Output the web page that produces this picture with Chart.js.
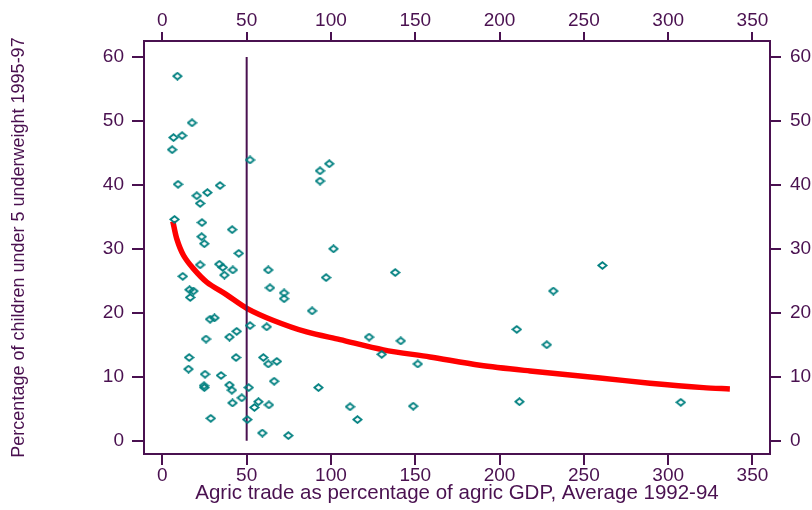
<!DOCTYPE html>
<html>
<head>
<meta charset="utf-8">
<script src="https://cdn.jsdelivr.net/npm/chart.js@4/dist/chart.umd.min.js"></script>
<style>
html,body{margin:0;padding:0;background:#fff;}
#wrap{width:812px;height:510px;}
</style>
</head>
<body>
<div id="wrap"><canvas id="c" width="812" height="510"></canvas></div>
<script>
// ---- data ----
const tradeShare = [8.9,17.6,6.6,11.7,5.8,52.0,99.0,93.5,93.5,9.3,34.2,20.4,26.7,22.4,7.2,23.5,41.4,23.3,24.9,45.3,101.5,
  22.4,33.8,35.8,41.8,36.8,12.1,62.8,97.1,16.1,18.4,16.5,63.8,72.2,72.2,88.8,28.3,30.9,52.0,61.9,44.1,39.8,25.9,
  15.9,43.7,59.9,62.8,67.9,15.5,25.3,34.8,66.3,24.7,24.9,39.8,41.2,51.2,92.6,47.1,41.6,57.0,54.6,63.2,28.7,50.4,
  59.3,74.7,111.3,115.7,138.1,122.6,141.4,130.1,151.5,210.2,228.0,148.8,211.8,261.0,231.9,307.5];
const underweight = [57.0,49.7,47.4,47.7,45.5,43.9,43.3,42.2,40.6,40.1,39.9,38.3,38.8,37.1,34.6,34.1,33.0,31.9,30.8,29.3,30.0,
  27.5,27.6,27.1,26.7,25.9,25.7,26.7,25.5,23.6,23.4,22.4,23.9,23.1,22.2,20.3,19.0,19.2,18.0,17.8,17.1,16.2,15.9,
  13.0,13.0,13.0,12.0,12.4,11.2,10.4,10.2,9.3,8.6,8.3,8.7,7.9,8.3,8.3,6.7,5.9,6.1,5.2,5.6,3.5,3.3,
  1.2,0.8,5.3,3.3,26.3,16.2,15.6,13.5,12.0,17.4,15.0,5.4,6.1,27.4,23.4,6.0];
const fitX = [6.2,8.5,12.5,18.4,26.3,38.2,50.1,65.9,85.6,105.4,131.1,158.7,188.4,218.1,259.6,289.2,320.9,336.6];
const fitY = [34.3,31.6,29.0,26.9,24.8,22.8,20.7,18.8,17.0,15.8,14.2,13.1,11.8,10.9,9.8,9.0,8.3,8.1];
const refLineX = [50,50];
const refLineY = [0,60];
const xTicks = [0,50,100,150,200,250,300,350];
const yTicks = [0,10,20,30,40,50,60];
const xTitle = 'Agric trade as percentage of agric GDP, Average 1992-94';
const yTitle = 'Percentage of children under 5 underweight 1995-97';

// ---- styles ----
const PURPLE = '#4a1150';
const TEAL = '#008080';
const RED = '#ff0000';
const FONT = 'Liberation Sans, Arial, sans-serif';

function diamondImg(){
  const c = document.createElement('canvas');
  c.width = 11; c.height = 9;
  const g = c.getContext('2d');
  g.strokeStyle = TEAL; g.lineWidth = 1.8; g.lineJoin = 'miter';
  g.beginPath();
  g.moveTo(1.3,4.5); g.lineTo(5.5,1.2); g.lineTo(9.7,4.5); g.lineTo(5.5,7.8); g.closePath();
  g.stroke();
  return c;
}
const marker = diamondImg();

const pts = tradeShare.map((x,i)=>({x:x, y:underweight[i]}));
const fit = fitX.map((x,i)=>({x:x, y:fitY[i]}));
const vline = refLineX.map((x,i)=>({x:x, y:refLineY[i]}));

const X_MIN = -10.9, X_MAX = 360.4, Y_MIN = -2.08, Y_MAX = 62.5;

function axis(pos, isX, size, tickLen, pad, ticksArr, titleCfg){
  return {
    type:'linear', position:pos,
    min: isX ? X_MIN : Y_MIN, max: isX ? X_MAX : Y_MAX,
    afterBuildTicks: s => { s.ticks = ticksArr.map(v=>({value:v})); },
    afterFit: s => { if (isX) s.height = size; else s.width = size; },
    grid:{display:true, drawOnChartArea:false, drawTicks:true, tickLength:tickLen, color:PURPLE, lineWidth:2},
    border:{display:true, color:PURPLE, width:2},
    ticks:{color:PURPLE, padding:pad, font:{family:FONT, size:19}, maxRotation:0, autoSkip:false},
    title: titleCfg || {display:false}
  };
}

new Chart(document.getElementById('c'), {
  type:'scatter',
  data:{
    datasets:[
      {label:'obs', data:pts, pointStyle:marker, pointRadius:5, showLine:false, order:0},
      {label:'vline', data:vline, showLine:true, borderColor:PURPLE, borderWidth:2, pointRadius:0, order:1},
      {label:'fit', data:fit, showLine:true, borderColor:RED, borderWidth:5.5, pointRadius:0, tension:0.3, order:2}
    ]
  },
  options:{
    responsive:false, animation:false, devicePixelRatio:1,
    layout:{padding:0},
    plugins:{legend:{display:false}, tooltip:{enabled:false}},
    scales:{
      x: axis('bottom', true, 56, 11, -1, xTicks,
        {display:true, text:xTitle, color:PURPLE, font:{family:FONT, size:20.5}, padding:{top:0, bottom:4}}),
      x2: axis('top', true, 41, 9, 0, xTicks),
      y: axis('left', false, 144, 12, 8, yTicks,
        {display:true, text:yTitle, color:PURPLE, font:{family:FONT, size:18}, padding:{top:8, bottom:0}}),
      y2: axis('right', false, 42, 11, 9, yTicks)
    }
  }
});
</script>
</body>
</html>
